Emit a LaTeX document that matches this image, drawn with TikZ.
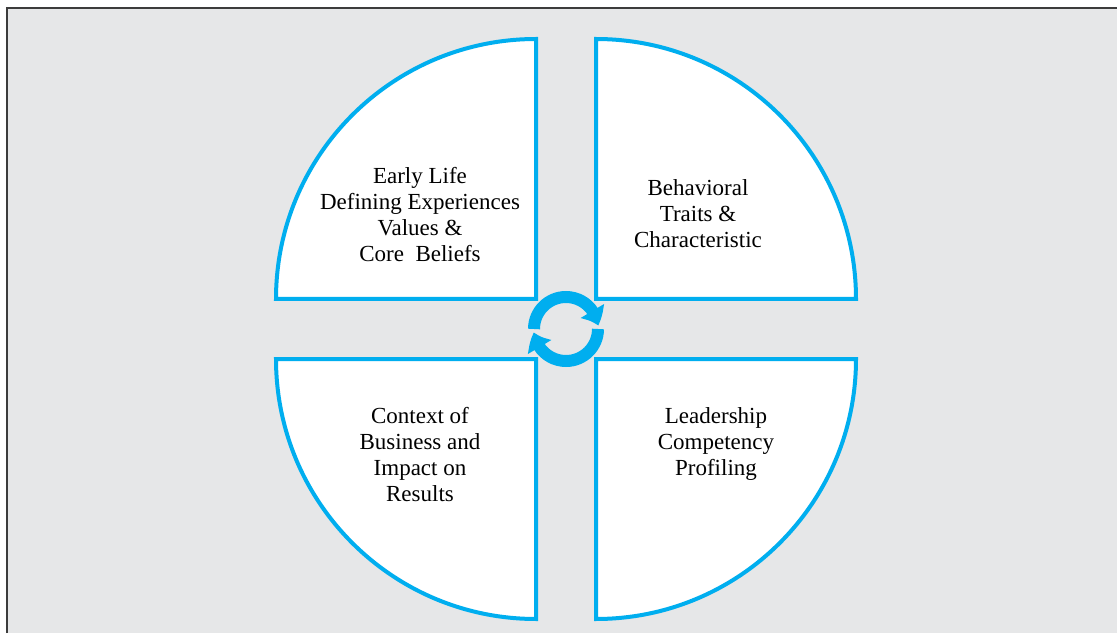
\documentclass[tikz,border=0pt]{standalone}
\usepackage{fontspec}
\setmainfont{Liberation Serif}
\usepackage{xcolor}
\usetikzlibrary{arrows.meta,bending,positioning}
\definecolor{cyanline}{HTML}{00AEEF}
\definecolor{panelgray}{HTML}{E6E7E8}
\definecolor{framegray}{HTML}{3C3C3C}
\begin{document}
\begin{tikzpicture}[x=1pt,y=1pt,
        quad/.style={draw=cyanline, line width=4pt, fill=white},
        lbl/.style={font=\fontsize{23}{26}\selectfont, align=center, inner sep=0pt},
        cyc/.style={draw=cyanline, line width=12pt, -{Triangle[length=16pt,width=26pt,bend]}}]
        \useasboundingbox (0,0) rectangle (1117,633);
        \fill[panelgray] (7,0) rectangle (1117,625);
        \draw[line width=2pt, framegray] (7,0) -- (7,625) -- (1117,625);

        % Quarters
        \draw[quad] (536,334) -- (276,334) arc[start angle=180, end angle=90, radius=260] -- cycle;
        \draw[quad] (596,334) -- (596,594) arc[start angle=90, end angle=0, radius=260] -- cycle;
        \draw[quad] (536,274) -- (276,274) arc[start angle=180, end angle=270, radius=260] -- cycle;
        \draw[quad] (596,274) -- (856,274) arc[start angle=0, end angle=-90, radius=260] -- cycle;

        % Labels
        \node[lbl] (early) at (420,418) {Early Life\\Defining Experiences\\Values \&\\Core\ \ Beliefs};
        \node[lbl] (traits) at (698,419) {Behavioral\\Traits \&\\Characteristic};
        \node[lbl] (context) at (420,178) {Context of\\Business and\\Impact on\\Results};
        \node[lbl] (profile) at (716,189) {Leadership\\Competency\\Profiling};

        % Cycle
        \coordinate (hub) at (566,304);
        \draw[cyc] ([shift={(180:32)}]hub) arc[start angle=180, end angle=6, radius=32];
        \draw[cyc] ([shift={(0:32)}]hub) arc[start angle=0, end angle=-174, radius=32];
    \end{tikzpicture}
\end{document}
